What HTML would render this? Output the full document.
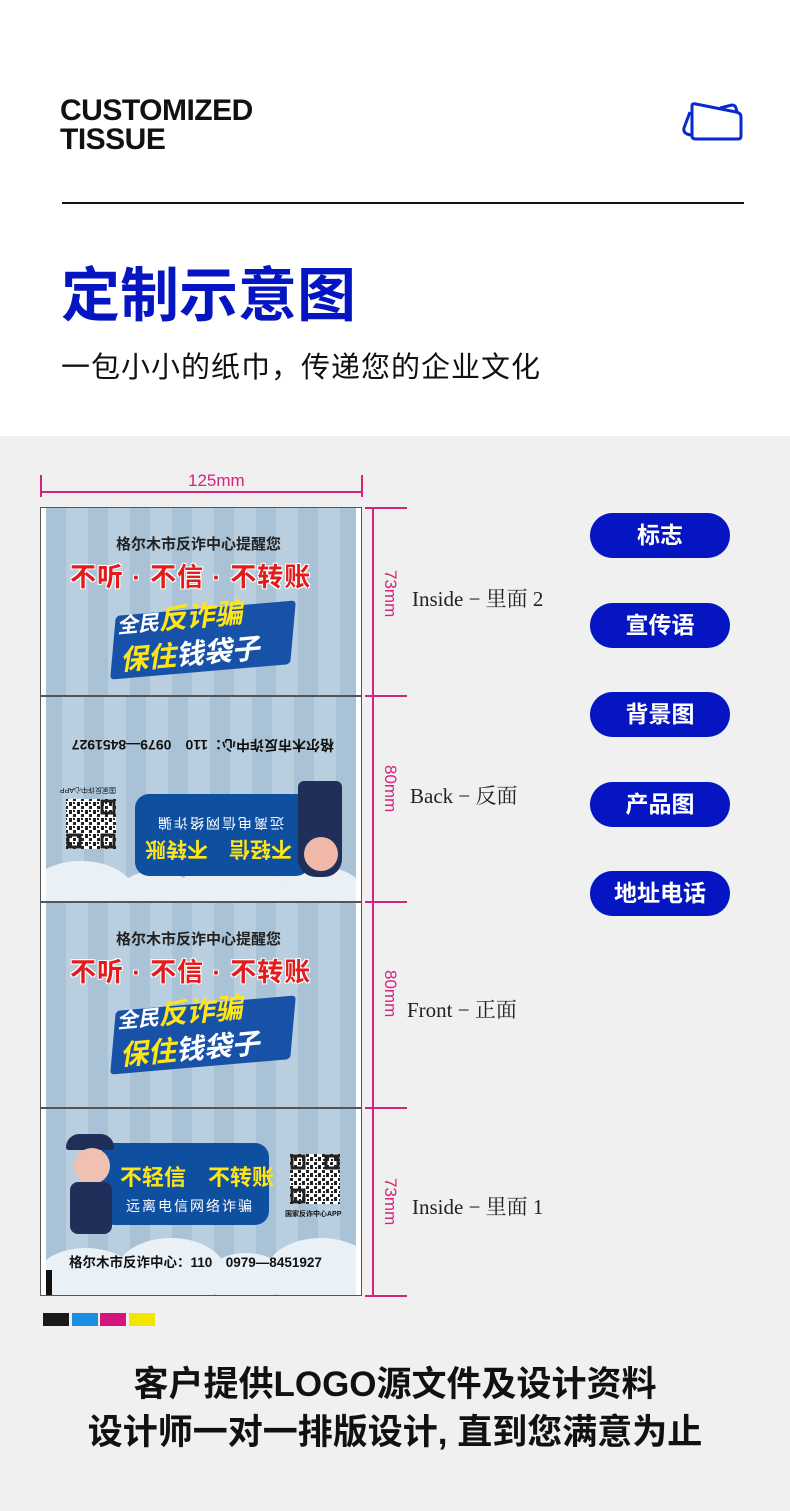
<!DOCTYPE html>
<html><head><meta charset="utf-8">
<style>
*{margin:0;padding:0;box-sizing:border-box}
body{width:790px;height:1511px;position:relative;background:#fff;font-family:"Liberation Sans","Noto Sans CJK SC",sans-serif;overflow:hidden}
.a{position:absolute}
.cjk{font-family:"Liberation Sans","Noto Sans CJK SC",sans-serif}
.pill{position:absolute;left:590px;width:140px;height:45px;border-radius:23px;background:#0515c2;color:#fff;font-size:23px;font-weight:bold;text-align:center;line-height:45px}
.panel{position:absolute;left:46px;width:310px;overflow:hidden;background:repeating-linear-gradient(90deg,#a9c2d6 0 20px,#b9cfdf 20px 42px)}
.pm{color:#d6237b;font-size:17px;position:absolute;writing-mode:vertical-rl}
.lbl{position:absolute;font-family:"Liberation Serif","Noto Serif CJK SC",serif;font-size:21px;color:#222}
.hl{position:absolute;left:365px;width:42px;height:1.5px;background:#d6237b}
.cloud{position:absolute;background:#e9f0f6;border-radius:50%}
.red{color:#e31b1b;font-weight:bold;font-size:26px;letter-spacing:1px;text-shadow:1px 1px 0 #fff,-1px -1px 0 #fff,1px -1px 0 #fff,-1px 1px 0 #fff}
</style></head><body>
<svg width="0" height="0" style="position:absolute"><defs>
<pattern id="qp" width="8" height="8" patternUnits="userSpaceOnUse"><rect width="8" height="8" fill="#fff"/><rect x="0" y="0" width="3" height="3" fill="#222"/><rect x="4" y="3" width="3" height="4" fill="#222"/><rect x="1" y="5" width="2" height="2" fill="#222"/></pattern>
</defs></svg>

<div class="a" style="left:60px;top:96px;font-size:30px;font-weight:bold;line-height:29px;color:#111;letter-spacing:-0.5px">CUSTOMIZED<br>TISSUE</div>
<svg class="a" style="left:680px;top:100px" width="66" height="44" viewBox="0 0 66 44">
<path d="M10 12 L4 28 Q3 32 7 34 L14 36" stroke="#0a2ad0" stroke-width="3" fill="none" stroke-linejoin="round"/>
<path d="M12 6 Q12 3 16 4 L56 12 Q61 13 61 17 L61 36 Q61 39 58 39 L16 39 Q12 39 12 36 Z" fill="#fff" stroke="#0a2ad0" stroke-width="3" stroke-linejoin="round"/>
<path d="M40 8 L52 5 Q55 5 56 8 L57 12" stroke="#0a2ad0" stroke-width="3" fill="none"/>
</svg>
<div class="a" style="left:62px;top:202px;width:682px;height:2px;background:#111"></div>
<div class="a cjk" style="left:61px;top:248px;font-size:59px;font-weight:bold;color:#0515c2">定制示意图</div>
<div class="a cjk" style="left:61px;top:344px;font-size:29px;color:#111;letter-spacing:1px">一包小小的纸巾，传递您的企业文化</div>

<div class="a" style="left:0;top:436px;width:790px;height:1075px;background:#f0f0f0"></div>

<div class="a" style="left:40px;top:491px;width:322px;height:1.5px;background:#d6237b"></div>
<div class="a" style="left:40px;top:475px;width:1.5px;height:22px;background:#d6237b"></div>
<div class="a" style="left:361px;top:475px;width:1.5px;height:22px;background:#d6237b"></div>
<div class="a" style="left:188px;top:471px;font-size:17px;color:#d6237b">125mm</div>

<div class="a" style="left:40px;top:507px;width:322px;height:789px;border:1.5px solid #555;background:#fff"></div>

<!-- panel 1 -->
<div class="panel" style="top:508px;height:187px">
<div class="a cjk" style="left:70px;top:25px;font-size:15px;color:#222;font-weight:bold">格尔木市反诈中心提醒您</div>
<div class="a cjk red" style="left:24px;top:49px">不听 · 不信 · 不转账</div>
<div class="a" style="left:68px;top:100px;width:178px;height:64px;background:#1752a8;transform:skewX(-10deg) rotate(-5deg);border-radius:4px"></div>
<div class="a cjk" style="left:72px;top:93px;font-size:28px;font-weight:bold;font-style:italic;color:#fff;transform:rotate(-5deg);line-height:34px"><span style="font-size:21px">全民</span><span style="color:#ffe516">反诈骗</span><br><span style="color:#ffe516">保住</span>钱袋子</div>
</div>

<!-- panel 2 upside down -->
<div class="panel" style="top:696px;height:205px;transform:rotate(180deg)">
<div class="cloud" style="left:-10px;top:-25px;width:100px;height:60px"></div>
<div class="cloud" style="left:70px;top:-30px;width:110px;height:70px"></div>
<div class="cloud" style="left:160px;top:-20px;width:80px;height:50px"></div>
<div class="cloud" style="left:220px;top:-30px;width:110px;height:70px"></div>
<div class="a cjk" style="left:22px;top:146px;font-size:14px;font-weight:bold;color:#111">格尔木市反诈中心：110　0979—8451927</div>
<div class="a" style="left:46px;top:25px;width:175px;height:82px;background:#0f4fa0;border-radius:14px"></div>
<div class="a cjk" style="left:64px;top:36px;font-size:21px;font-weight:bold;color:#ffe516">不轻信　不转账</div>
<div class="a cjk" style="left:72px;top:68px;font-size:14px;color:#fff;letter-spacing:2px">远离电信网络诈骗</div>
<div class="a" style="left:14px;top:24px;width:44px;height:96px;background:#1f2f5a;border-radius:18px 18px 6px 6px"></div>
<div class="a" style="left:18px;top:30px;width:34px;height:34px;background:#f0b8a8;border-radius:50%"></div>
<svg class="a" style="left:240px;top:52px" width="50" height="50"><rect width="50" height="50" fill="url(#qp)"/><rect x="2" y="2" width="12" height="12" fill="none" stroke="#222" stroke-width="3"/><rect x="36" y="2" width="12" height="12" fill="none" stroke="#222" stroke-width="3"/><rect x="2" y="36" width="12" height="12" fill="none" stroke="#222" stroke-width="3"/></svg>
<div class="a cjk" style="left:240px;top:106px;font-size:7px;color:#111">国家反诈中心APP</div>
</div>

<!-- panel 3 -->
<div class="panel" style="top:902px;height:205px">
<div class="a cjk" style="left:70px;top:26px;font-size:15px;color:#222;font-weight:bold">格尔木市反诈中心提醒您</div>
<div class="a cjk red" style="left:24px;top:50px">不听 · 不信 · 不转账</div>
<div class="a" style="left:68px;top:101px;width:178px;height:64px;background:#1752a8;transform:skewX(-10deg) rotate(-5deg);border-radius:4px"></div>
<div class="a cjk" style="left:72px;top:94px;font-size:28px;font-weight:bold;font-style:italic;color:#fff;transform:rotate(-5deg);line-height:34px"><span style="font-size:21px">全民</span><span style="color:#ffe516">反诈骗</span><br><span style="color:#ffe516">保住</span>钱袋子</div>
</div>

<!-- panel 4 -->
<div class="panel" style="top:1108px;height:187px">
<div class="cloud" style="left:-10px;top:140px;width:100px;height:60px"></div>
<div class="cloud" style="left:70px;top:130px;width:110px;height:70px"></div>
<div class="cloud" style="left:160px;top:145px;width:80px;height:50px"></div>
<div class="cloud" style="left:220px;top:130px;width:110px;height:70px"></div>
<div class="a" style="left:0;top:162px;width:6px;height:25px;background:#111"></div>
<div class="a" style="left:54px;top:35px;width:169px;height:82px;background:#0f4fa0;border-radius:14px"></div>
<div class="a cjk" style="left:74px;top:52px;font-size:22px;font-weight:bold;color:#ffe516">不轻信　不转账</div>
<div class="a cjk" style="left:80px;top:88px;font-size:14px;color:#fff;letter-spacing:2px">远离电信网络诈骗</div>
<div class="a" style="left:20px;top:26px;width:48px;height:16px;background:#1f2f5a;border-radius:20px 20px 4px 4px"></div>
<div class="a" style="left:28px;top:40px;width:36px;height:36px;background:#f0c0b0;border-radius:50%"></div>
<div class="a" style="left:24px;top:74px;width:42px;height:52px;background:#1f2f5a;border-radius:8px"></div>
<svg class="a" style="left:244px;top:46px" width="50" height="50"><rect width="50" height="50" fill="url(#qp)"/><rect x="2" y="2" width="12" height="12" fill="none" stroke="#222" stroke-width="3"/><rect x="36" y="2" width="12" height="12" fill="none" stroke="#222" stroke-width="3"/><rect x="2" y="36" width="12" height="12" fill="none" stroke="#222" stroke-width="3"/></svg>
<div class="a cjk" style="left:239px;top:101px;font-size:7px;color:#111;font-weight:bold">国家反诈中心APP</div>
<div class="a cjk" style="left:23px;top:143px;font-size:13.5px;font-weight:bold;color:#111">格尔木市反诈中心：110　0979—8451927</div>
</div>

<div class="a" style="left:40px;top:695px;width:322px;height:1.5px;background:#555"></div>
<div class="a" style="left:40px;top:901px;width:322px;height:1.5px;background:#555"></div>
<div class="a" style="left:40px;top:1107px;width:322px;height:1.5px;background:#555"></div>

<div class="a" style="left:372px;top:507px;width:1.5px;height:789px;background:#d6237b"></div>
<div class="hl" style="top:507px"></div>
<div class="hl" style="top:695px"></div>
<div class="hl" style="top:901px"></div>
<div class="hl" style="top:1107px"></div>
<div class="hl" style="top:1295px"></div>
<div class="pm" style="left:380px;top:570px">73mm</div>
<div class="pm" style="left:380px;top:765px">80mm</div>
<div class="pm" style="left:380px;top:970px">80mm</div>
<div class="pm" style="left:380px;top:1178px">73mm</div>

<div class="lbl" style="left:412px;top:583px">Inside − 里面 2</div>
<div class="lbl" style="left:410px;top:780px">Back − 反面</div>
<div class="lbl" style="left:407px;top:994px">Front − 正面</div>
<div class="lbl" style="left:412px;top:1191px">Inside − 里面 1</div>

<div class="pill" style="top:513px">标志</div>
<div class="pill" style="top:603px">宣传语</div>
<div class="pill" style="top:692px">背景图</div>
<div class="pill" style="top:782px">产品图</div>
<div class="pill" style="top:871px">地址电话</div>

<div class="a" style="left:43px;top:1313px;width:26px;height:13px;background:#1a1a1a"></div>
<div class="a" style="left:72px;top:1313px;width:26px;height:13px;background:#1a8ee0"></div>
<div class="a" style="left:100px;top:1313px;width:26px;height:13px;background:#d4157e"></div>
<div class="a" style="left:129px;top:1313px;width:26px;height:13px;background:#f2e600"></div>

<div class="a cjk" style="left:0;top:1356px;width:790px;text-align:center;font-size:35px;font-weight:bold;color:#111">客户提供LOGO源文件及设计资料</div>
<div class="a cjk" style="left:0;top:1404px;width:790px;text-align:center;font-size:35px;font-weight:bold;color:#111">设计师一对一排版设计, 直到您满意为止</div>
</body></html>
